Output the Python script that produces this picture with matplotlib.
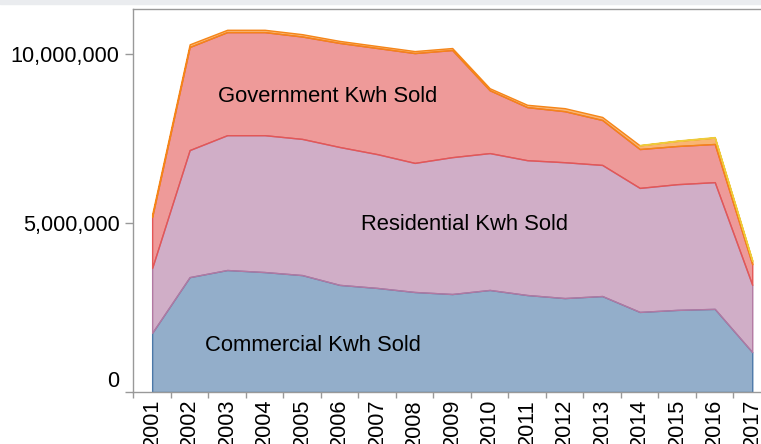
import numpy as np
import matplotlib
matplotlib.use('Agg')
import matplotlib.pyplot as plt
from matplotlib.patches import Rectangle

plt.rcParams['font.family'] = ['Liberation Sans', 'DejaVu Sans']

# data (kWh)
years = [str(y) for y in range(2001, 2018)]
commercial = [1.75e6, 3.40e6, 3.61e6, 3.55e6, 3.46e6, 3.17e6, 3.08e6, 2.96e6, 2.90e6,
              3.02e6, 2.87e6, 2.78e6, 2.84e6, 2.37e6, 2.43e6, 2.46e6, 1.18e6]
residential = [1.92e6, 3.76e6, 3.99e6, 4.05e6, 4.03e6, 4.08e6, 3.96e6, 3.82e6, 4.05e6,
               4.05e6, 3.99e6, 4.02e6, 3.88e6, 3.67e6, 3.72e6, 3.75e6, 1.99e6]
government = [1.51e6, 3.05e6, 3.05e6, 3.05e6, 3.03e6, 3.08e6, 3.14e6, 3.25e6, 3.17e6,
              1.86e6, 1.57e6, 1.51e6, 1.33e6, 1.15e6, 1.13e6, 1.13e6, 0.61e6]
industrial = [0.08e6, 0.08e6, 0.07e6, 0.07e6, 0.07e6, 0.06e6, 0.06e6, 0.06e6, 0.06e6,
              0.06e6, 0.07e6, 0.09e6, 0.09e6, 0.11e6, 0.15e6, 0.19e6, 0.10e6]
other = [np.nan] * 13 + [0.01e6, 0.012e6, 0.015e6, 0.02e6]

series = [commercial, residential, government, industrial, other]
colors = ['#4c78a8', '#b279a2', '#e45756', '#f58518', '#eeca3b']

fig = plt.figure(figsize=(7.61, 4.44), dpi=100)
fig.patches.append(Rectangle((0, 1 - 4 / 444), 1, 4 / 444, transform=fig.transFigure,
                             color='#eaecef', zorder=0))

ax = fig.add_axes([133.4 / 761, 1 - 392 / 444, (771 - 133.4) / 761, (392 - 9.5) / 444])

x = np.arange(len(years))
base = np.zeros(len(years))
for vals, c in zip(series, colors):
    v = np.array(vals, dtype=float)
    mask = ~np.isnan(v)
    top = base + np.nan_to_num(v)
    ax.fill_between(x, base, top, where=mask, facecolor=matplotlib.colors.to_rgba(c, 0.6),
                    edgecolor=c, linewidth=1.0)
    base = top

ax.set_xlim(-0.5, 16.5)
ax.set_ylim(0, 11.32e6)

# x axis: labels at band centres, ticks at band edges
ax.set_xticks(x)
ax.set_xticklabels(years, rotation=90, fontsize=15.7)
ax.tick_params(axis='x', which='major', length=0, pad=5)
ax.set_xticks(np.arange(-0.5, 17, 1), minor=True)
ax.tick_params(axis='x', which='minor', length=4, color='#999999', width=1)

yt = [0, 5e6, 10e6]
ax.set_yticks(yt)
ax.set_yticklabels(['{:,}'.format(int(v)) for v in yt], fontsize=15.7)
ax.tick_params(axis='y', length=6, color='#999999', width=1, pad=4)
ax.yaxis.get_major_ticks()[0].label1.set_va('bottom')

for s in ['left', 'bottom', 'top']:
    ax.spines[s].set_color('#999999')
    ax.spines[s].set_linewidth(1)
ax.spines['right'].set_visible(False)

ax.text(1.75, 8.76e6, 'Government Kwh Sold', fontsize=15.8, ha='left', va='center')
ax.text(5.58, 4.95e6, 'Residential Kwh Sold', fontsize=15.8, ha='left', va='center')
ax.text(1.40, 1.39e6, 'Commercial Kwh Sold', fontsize=15.8, ha='left', va='center')

fig.savefig('out.png', dpi=100)
